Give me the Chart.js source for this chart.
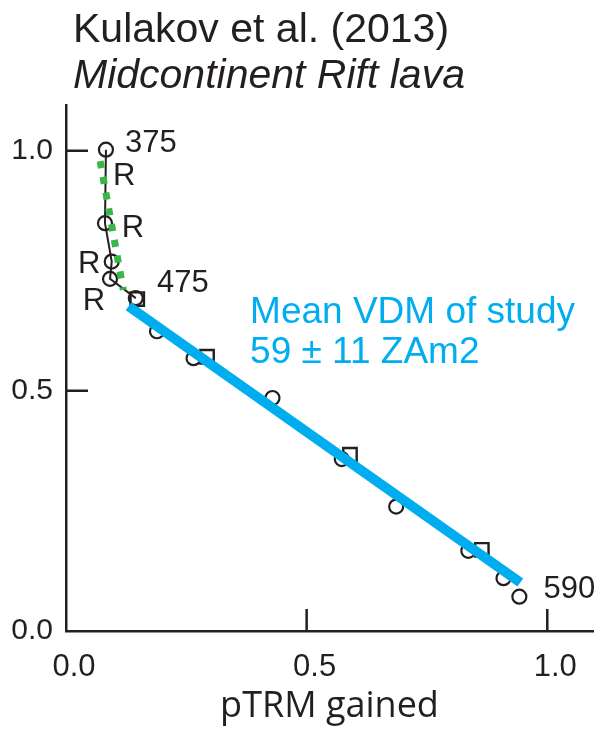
<!DOCTYPE html>
<html>
<head>
<meta charset="utf-8">
<script src="https://cdn.jsdelivr.net/npm/chart.js@4/dist/chart.umd.min.js"></script>
<style>
  html, body { margin: 0; padding: 0; background: #fff; }
  #arai { display: block; }
</style>
</head>
<body>
<canvas id="arai" width="596" height="734"></canvas>
<script>
// zero-field / in-field steps (NRM remaining vs pTRM gained)
var stepX = [0.083, 0.081, 0.095, 0.0915, 0.145, 0.189, 0.265, 0.429, 0.573, 0.686, 0.836, 0.909, 0.942];
var stepY = [1.002, 0.849, 0.769, 0.733, 0.693, 0.624, 0.568, 0.485, 0.358, 0.259, 0.167, 0.110, 0.0715];

// pTRM checks
var checkX = [0.148, 0.293, 0.590, 0.864];
var checkY = [0.691, 0.571, 0.367, 0.169];

// low-temperature segment and fitted segment
var lowX = [0.071, 0.119];
var lowY = [0.978, 0.710];
var fitX = [0.130, 0.944];
var fitY = [0.676, 0.101];

var tickValues = [0, 0.5, 1.0];
var axisMax = 1.095;

// temperature / remark labels, anchored at left baseline
var noteText = ['375', '475', '590', 'R', 'R', 'R', 'R'];
var noteX = [0.1227, 0.189, 0.992, 0.0977, 0.116, 0.025, 0.035];
var noteY = [0.998, 0.706, 0.069, 0.929, 0.821, 0.746, 0.669];

var fitText = ['Mean VDM of study', '59 \u00b1 11 ZAm2'];
var fitTextX = 0.3825;
var fitTextY = [0.6417, 0.558];

var titleLines = ['Kulakov et al. (2013)', 'Midcontinent Rift lava'];

var INK = '#231F20';
var GREEN = '#39B54A';
var BLUE = '#00AEEF';

toPoints = function (xs, ys) {
    var pts = [];
    for (var i = 0; i < xs.length; i++) {
        pts.push({x: xs[i], y: ys[i]});
    }
    return pts;
}

setTicks = function (scale) {
    scale.ticks = tickValues.map(function (v) { return {value: v}; });
}

// tick marks point into the plot
var innerTicks = {
    id: 'innerTicks',
    afterDraw: function (chart) {
        var ctx = chart.ctx;
        var xs = chart.scales.x, ys = chart.scales.y;
        var area = chart.chartArea;
        ctx.save();
        ctx.strokeStyle = INK;
        ctx.lineWidth = 2.5;
        ctx.beginPath();
        for (var i = 1; i < tickValues.length; i++) {
            var px = xs.getPixelForValue(tickValues[i]);
            ctx.moveTo(px, area.bottom);
            ctx.lineTo(px, area.bottom - 22);
            var py = ys.getPixelForValue(tickValues[i]);
            ctx.moveTo(area.left, py);
            ctx.lineTo(area.left + 22, py);
        }
        ctx.stroke();
        ctx.restore();
    }
};

var notes = {
    id: 'notes',
    afterDraw: function (chart) {
        var ctx = chart.ctx;
        var xs = chart.scales.x, ys = chart.scales.y;
        ctx.save();
        ctx.textAlign = 'left';
        ctx.textBaseline = 'alphabetic';

        ctx.fillStyle = INK;
        ctx.font = '31px "Liberation Sans"';
        for (var i = 0; i < noteText.length; i++) {
            ctx.fillText(noteText[i], xs.getPixelForValue(noteX[i]), ys.getPixelForValue(noteY[i]));
        }

        ctx.fillStyle = BLUE;
        ctx.font = '37px "Liberation Sans"';
        for (var j = 0; j < fitText.length; j++) {
            ctx.fillText(fitText[j], xs.getPixelForValue(fitTextX), ys.getPixelForValue(fitTextY[j]));
        }

        ctx.fillStyle = INK;
        ctx.font = '41px "Liberation Sans"';
        ctx.fillText(titleLines[0], 73, 42);
        ctx.font = 'italic 41px "Liberation Sans"';
        ctx.fillText(titleLines[1], 73, 88);
        ctx.restore();
    }
};

Chart.defaults.font.family = '"Liberation Sans", Arial, sans-serif';
Chart.defaults.color = INK;

var ctx = document.getElementById('arai');
var araiChart = new Chart(ctx, {
    type: 'scatter',
    data: {
        datasets: [{
            data: toPoints(fitX, fitY),
            showLine: true,
            borderColor: BLUE,
            borderWidth: 10,
            borderCapStyle: 'butt',
            pointRadius: 0,
            order: 0
        }, {
            data: toPoints(lowX, lowY),
            showLine: true,
            borderColor: GREEN,
            borderWidth: 7,
            borderDash: [7, 9],
            pointRadius: 0,
            order: 1
        }, {
            data: toPoints(checkX, checkY),
            pointStyle: 'rect',
            pointRadius: 9.5,
            borderColor: INK,
            borderWidth: 2.4,
            backgroundColor: 'rgba(0,0,0,0)',
            order: 2
        }, {
            data: toPoints(stepX, stepY),
            pointStyle: 'circle',
            pointRadius: 7,
            borderColor: INK,
            borderWidth: 2.2,
            backgroundColor: 'rgba(0,0,0,0)',
            order: 3
        }, {
            data: toPoints(stepX.slice(0, 5), stepY.slice(0, 5)),
            showLine: true,
            borderColor: INK,
            borderWidth: 2,
            pointRadius: 0,
            order: 4
        }]
    },
    options: {
        responsive: false,
        animation: false,
        devicePixelRatio: 1,
        layout: {
            autoPadding: false,
            padding: {top: 105, right: 3, bottom: 0, left: 0}
        },
        plugins: {
            legend: {display: false},
            tooltip: {enabled: false}
        },
        scales: {
            x: {
                type: 'linear',
                min: 0,
                max: axisMax,
                afterBuildTicks: setTicks,
                afterFit: function (scale) { scale.height = 103; },
                grid: {display: false, drawTicks: false},
                border: {display: true, color: INK, width: 2.5},
                ticks: {
                    padding: 18,
                    labelOffset: 8,
                    maxRotation: 0,
                    font: {size: 31},
                    color: INK,
                    callback: function (v) { return v.toFixed(1); }
                },
                title: {
                    display: true,
                    text: 'pTRM gained',
                    color: INK,
                    font: {family: '"Open Sans", sans-serif', size: 36},
                    padding: {top: 0, bottom: 6}
                }
            },
            y: {
                type: 'linear',
                min: 0,
                max: axisMax,
                afterBuildTicks: setTicks,
                afterFit: function (scale) { scale.width = 66; },
                grid: {display: false, drawTicks: false},
                border: {display: true, color: INK, width: 2.5},
                ticks: {
                    padding: 13,
                    font: {size: 30},
                    color: INK,
                    callback: function (v) { return v.toFixed(1); }
                }
            }
        }
    },
    plugins: [innerTicks, notes]
});
</script>
</body>
</html>
